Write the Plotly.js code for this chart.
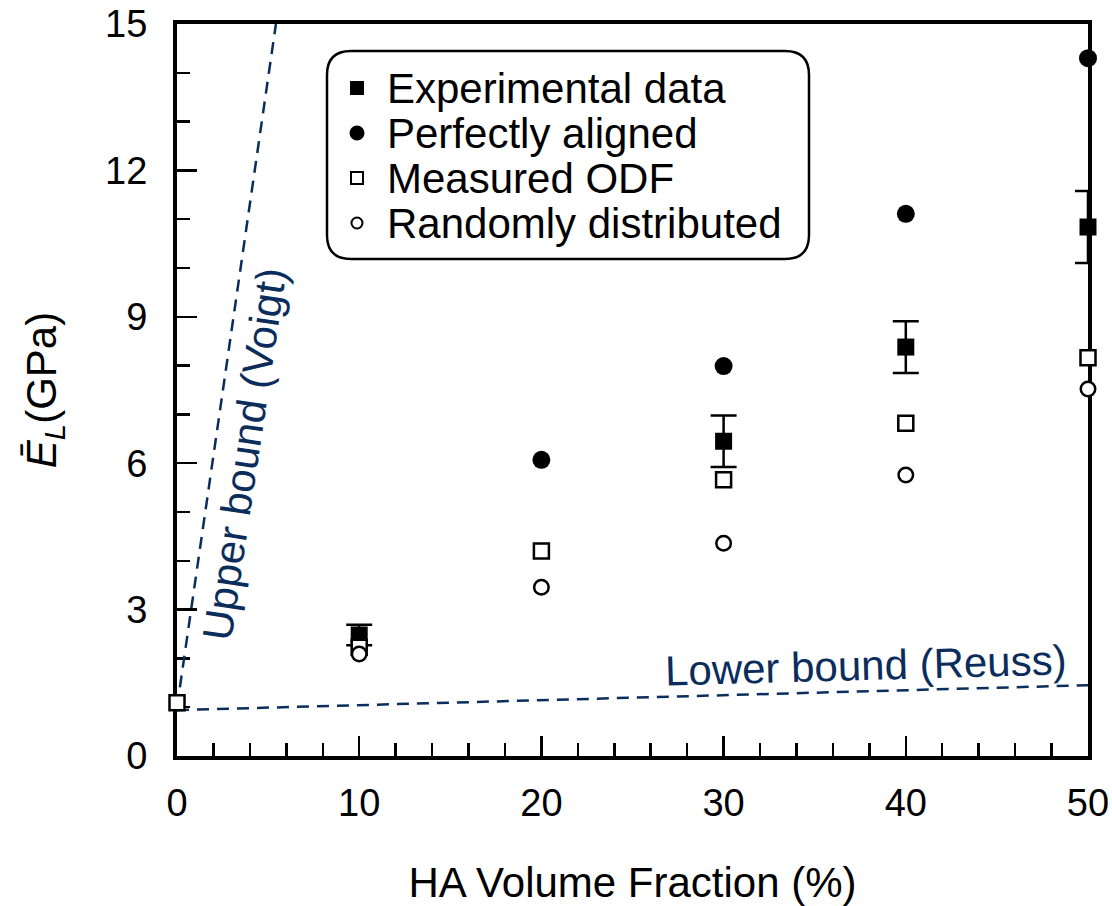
<!DOCTYPE html>
<html>
<head>
<meta charset="utf-8">
<script src="https://cdn.plot.ly/plotly-3.0.1.min.js"></script>
<style>
  html, body { margin: 0; padding: 0; background: #ffffff; }
  #chart { width: 1112px; height: 906px; }
</style>
</head>
<body>
<div id="chart"></div>
<script>
// HA volume fraction (%) and longitudinal modulus (GPa)
const expX = [10, 30, 40, 50];
const expY = [2.48, 6.45, 8.38, 10.84];
const expErr = [0.21, 0.53, 0.53, 0.74];

const alignedX = [20, 30, 40, 50];
const alignedY = [6.07, 7.99, 11.11, 14.30];

const odfX = [0, 10, 20, 30, 40, 50];
const odfY = [1.09, 2.23, 4.20, 5.66, 6.82, 8.16];

const randomX = [10, 20, 30, 40, 50];
const randomY = [2.09, 3.46, 4.36, 5.76, 7.52];

// Voigt (upper) and Reuss (lower) bounds
const voigtX = [0, 5.43];
const voigtY = [1.0, 15.0];
const reussX = [0, 50];
const reussY = [0.94, 1.45];

const xTicks = [0, 10, 20, 30, 40, 50];
const yTicks = [0, 3, 6, 9, 12, 15];
const legendLabels = ['Experimental data', 'Perfectly aligned', 'Measured ODF', 'Randomly distributed'];

const FONT = 'Liberation Sans, Arial, Helvetica, sans-serif';
const NAVY = '#0b2d5c';
const BOUND_DASH = '12px,8px';
const TEXT_SIZE = 42;

// plot-area geometry in pixels
const M = { l: 177, r: 24, t: 24, b: 150 };
const W = 1112 - M.l - M.r;
const H = 906 - M.t - M.b;
const fx = p => (p - M.l) / W;
const fy = p => (M.t + H - p) / H;

const markerTraces = [
  {
    x: expX, y: expY, type: 'scatter', mode: 'markers', name: legendLabels[0],
    marker: { symbol: 'square', size: 17, color: '#000000' },
    error_y: { type: 'data', array: expErr, visible: true, color: '#000000', thickness: 2.5, width: 13 },
    cliponaxis: false, showlegend: false
  },
  {
    x: alignedX, y: alignedY, type: 'scatter', mode: 'markers', name: legendLabels[1],
    marker: { symbol: 'circle', size: 18, color: '#000000' },
    cliponaxis: false, showlegend: false
  },
  {
    x: odfX, y: odfY, type: 'scatter', mode: 'markers', name: legendLabels[2],
    marker: { symbol: 'square', size: 15, color: '#ffffff', line: { color: '#000000', width: 2.5 } },
    cliponaxis: false, showlegend: false
  },
  {
    x: randomX, y: randomY, type: 'scatter', mode: 'markers', name: legendLabels[3],
    marker: { symbol: 'circle', size: 14.5, color: '#ffffff', line: { color: '#000000', width: 2.5 } },
    cliponaxis: false, showlegend: false
  }
];

const boundTraces = [
  {
    x: voigtX, y: voigtY, type: 'scatter', mode: 'lines', name: 'Voigt',
    line: { color: NAVY, width: 2.5, dash: BOUND_DASH }, showlegend: false, hoverinfo: 'skip'
  },
  {
    x: reussX, y: reussY, type: 'scatter', mode: 'lines', name: 'Reuss',
    line: { color: NAVY, width: 2.5, dash: BOUND_DASH }, showlegend: false, hoverinfo: 'skip'
  }
];

// rounded legend frame
function roundedBox(x0, y0, x1, y1, r) {
  const P = (x, y) => fx(x).toFixed(5) + ',' + fy(y).toFixed(5);
  return 'M' + P(x0 + r, y0) + ' L' + P(x1 - r, y0) + ' Q' + P(x1, y0) + ' ' + P(x1, y0 + r) +
    ' L' + P(x1, y1 - r) + ' Q' + P(x1, y1) + ' ' + P(x1 - r, y1) +
    ' L' + P(x0 + r, y1) + ' Q' + P(x0, y1) + ' ' + P(x0, y1 - r) +
    ' L' + P(x0, y0 + r) + ' Q' + P(x0, y0) + ' ' + P(x0 + r, y0) + ' Z';
}

const legendRows = [88, 133, 178, 223];
const symX = 357;
const textX = 385;
const symbolSpec = [
  { type: 'rect', half: 7, fill: '#000000', lw: 0 },
  { type: 'circle', half: 7.5, fill: '#000000', lw: 0 },
  { type: 'rect', half: 6, fill: '#ffffff', lw: 2 },
  { type: 'circle', half: 5.5, fill: '#ffffff', lw: 2 }
];

const shapes = [{
  type: 'path', xref: 'paper', yref: 'paper', layer: 'above',
  path: roundedBox(327, 51, 809, 259, 24),
  line: { color: '#000000', width: 2.5 }, fillcolor: 'rgba(0,0,0,0)'
}];
symbolSpec.forEach((s, i) => {
  shapes.push({
    type: s.type, xref: 'paper', yref: 'paper', layer: 'above',
    xsizemode: 'pixel', ysizemode: 'pixel',
    xanchor: fx(symX), yanchor: fy(legendRows[i]),
    x0: -s.half, x1: s.half, y0: -s.half, y1: s.half,
    fillcolor: s.fill,
    line: { color: '#000000', width: s.lw }
  });
});

const annotations = legendLabels.map((t, i) => ({
  text: t, xref: 'paper', yref: 'paper',
  x: fx(textX), y: fy(legendRows[i]), xanchor: 'left', yanchor: 'middle',
  showarrow: false, font: { family: FONT, size: TEXT_SIZE, color: '#000000' }
}));

annotations.push({
  text: 'Upper bound (Voigt)', xref: 'x', yref: 'y', x: 3.7, y: 6.2,
  textangle: -81.5, showarrow: false,
  font: { family: FONT, size: TEXT_SIZE, color: NAVY }
});
annotations.push({
  text: 'Lower bound (Reuss)', xref: 'x', yref: 'y', x: 37.8, y: 1.85,
  textangle: -1.6, showarrow: false,
  font: { family: FONT, size: TEXT_SIZE, color: NAVY }
});

const axisCommon = {
  showline: true, linewidth: 4, linecolor: '#000000', mirror: true,
  showgrid: false, zeroline: false,
  ticks: 'inside', ticklen: 20, tickwidth: 2.5, tickcolor: '#000000',
  tickfont: { family: FONT, size: 38, color: '#000000' },
  layer: 'below traces', fixedrange: true
};

const layout = {
  width: 1112, height: 906,
  margin: M,
  paper_bgcolor: '#ffffff', plot_bgcolor: '#ffffff',
  showlegend: false,
  font: { family: FONT, color: '#000000' },
  xaxis: Object.assign({}, axisCommon, {
    range: [0, 50], tickmode: 'array', tickvals: xTicks, ticktext: xTicks.map(String),
    ticklabelstandoff: 10,
    minor: { tick0: 0, dtick: 2, ticks: 'inside', ticklen: 13, tickwidth: 2.5, tickcolor: '#000000', showgrid: false },
    title: { text: 'HA Volume Fraction (%)', font: { family: FONT, size: TEXT_SIZE, color: '#000000' }, standoff: 46 }
  }),
  yaxis: Object.assign({}, axisCommon, {
    range: [0, 15], tickmode: 'array', tickvals: yTicks, ticktext: yTicks.map(String),
    ticklabelstandoff: 18,
    minor: { tick0: 0, dtick: 1, ticks: 'inside', ticklen: 13, tickwidth: 2.5, tickcolor: '#000000', showgrid: false },
    title: { text: '<i>Ē</i><sub><i>L</i></sub>(GPa)', font: { family: FONT, size: TEXT_SIZE, color: '#000000' }, standoff: 36 }
  }),
  shapes: shapes,
  annotations: annotations
};

Plotly.newPlot('chart', boundTraces.concat(markerTraces), layout, { displayModeBar: false, staticPlot: true });
</script>
</body>
</html>
